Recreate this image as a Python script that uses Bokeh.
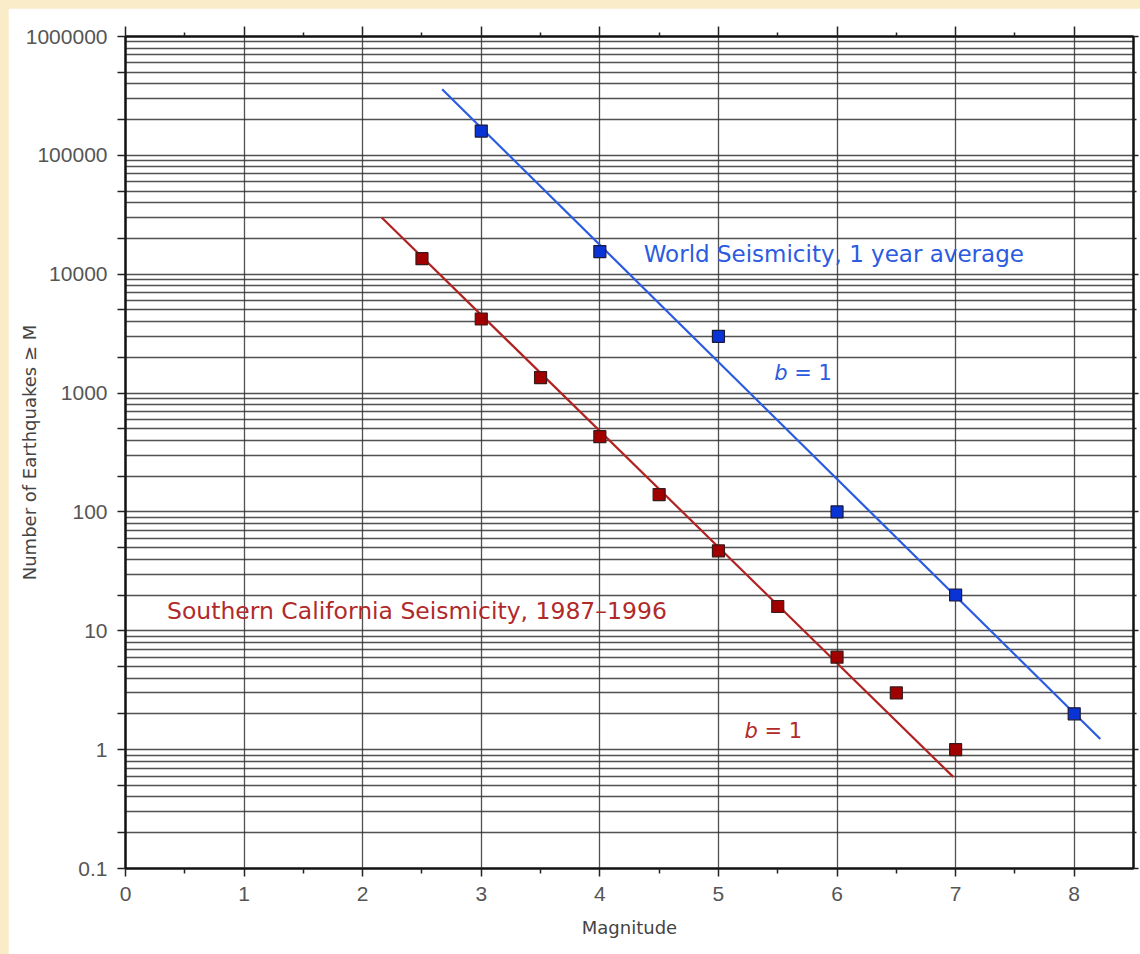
from bokeh.plotting import figure
from bokeh.layouts import column
from bokeh.models import (FixedTicker, LogAxis, LinearAxis, Range1d, CustomJSTickFormatter)
from bokeh.core.properties import value
from bokeh.embed import file_html
from bokeh.resources import INLINE

# ---- data ----
world_mag = [3, 4, 5, 6, 7, 8]
world_n = [160000, 15500, 3000, 100, 20, 2]
socal_mag = [2.5, 3, 3.5, 4, 4.5, 5, 5.5, 6, 6.5, 7]
socal_n = [13500, 4200, 1350, 430, 140, 47, 16, 6, 3, 1]

world_fit_mag = [2.67, 8.22]
world_fit_n = [360000, 1.23]
socal_fit_mag = [2.16, 6.98]
socal_fit_n = [30000, 0.59]

x_ticks = [0, 1, 2, 3, 4, 5, 6, 7, 8]
x_minor = [0.5, 1.5, 2.5, 3.5, 4.5, 5.5, 6.5, 7.5]
y_ticks = [0.1, 1, 10, 100, 1000, 10000, 100000, 1000000]
y_minor = [d * m for d in [0.1, 1, 10, 100, 1000, 10000, 100000] for m in (2, 5)]
y_grid = [d * m for d in [0.1, 1, 10, 100, 1000, 10000, 100000] for m in range(1, 10)] + [1000000]

labels_x = [4.37, 5.47, 0.35, 5.22]
labels_y = [14700, 1465, 14.8, 1.43]

FONT = "DejaVu Sans"
TICKFONT = "Liberation Sans"

p = figure(width=1132, height=946, y_axis_type="log",
           x_range=Range1d(0, 8.5), y_range=Range1d(0.1, 1000000),
           output_backend="svg", toolbar_location=None,
           min_border_left=117, min_border_right=7, min_border_top=28, min_border_bottom=86,
           background_fill_color="white", border_fill_color="white")
p.outline_line_color = "#111111"
p.outline_line_width = 2

# grids
p.xgrid.ticker = FixedTicker(ticks=x_ticks)
p.ygrid.ticker = FixedTicker(ticks=y_grid)
for g in (p.xgrid, p.ygrid):
    g.grid_line_color = "#333333"
    g.grid_line_width = 1.3
    g.grid_line_alpha = 0.85

xa = p.xaxis[0]
xa.ticker = FixedTicker(ticks=x_ticks, minor_ticks=x_minor)
xa.axis_label = "Magnitude"

ya = p.yaxis[0]
ya.ticker = FixedTicker(ticks=y_ticks, minor_ticks=y_minor)
ya.formatter = CustomJSTickFormatter(code="return tick.toString();")
ya.axis_label = "Number of Earthquakes \u2265 M"

for ax in (xa, ya):
    ax.axis_line_color = "#111111"
    ax.axis_line_width = 2
    ax.major_tick_line_color = "#222222"
    ax.minor_tick_line_color = "#222222"
    ax.major_tick_line_width = 1.5
    ax.minor_tick_line_width = 1.5
    ax.major_tick_in = 0
    ax.minor_tick_in = 0
    ax.major_label_text_font = TICKFONT
    ax.major_label_text_font_size = "21px"
    ax.major_label_text_color = "#555555"
    ax.axis_label_text_font = FONT
    ax.axis_label_text_font_size = "18px"
    ax.axis_label_text_font_style = "normal"
    ax.axis_label_text_color = "#444444"

xa.major_tick_out = 8
xa.minor_tick_out = 5
xa.major_label_standoff = 10
xa.axis_label_standoff = 13
ya.major_tick_out = 8
ya.minor_tick_out = 8
ya.major_label_standoff = 10
ya.axis_label_standoff = -17

blank = CustomJSTickFormatter(code="return '';")
top = LinearAxis(ticker=FixedTicker(ticks=x_ticks, minor_ticks=x_minor), formatter=blank)
right = LogAxis(ticker=FixedTicker(ticks=y_ticks, minor_ticks=y_minor), formatter=blank)
for ax in (top, right):
    ax.axis_line_color = "#111111"
    ax.axis_line_width = 2
    ax.major_tick_line_color = "#222222"
    ax.minor_tick_line_color = "#222222"
    ax.major_tick_line_width = 1.5
    ax.minor_tick_line_width = 1.5
    ax.major_tick_in = 0
    ax.minor_tick_in = 0
    ax.major_label_text_font_size = "1px"
top.major_tick_out = 10
top.minor_tick_out = 4
right.major_tick_out = 5
right.minor_tick_out = 3
p.add_layout(top, "above")
p.add_layout(right, "right")

# fit lines
p.line(world_fit_mag, world_fit_n, line_color="#2a5be0", line_width=2.2)
p.line(socal_fit_mag, socal_fit_n, line_color="#b02222", line_width=2.2)

# points
p.scatter(world_mag, world_n, marker="square", size=12, fill_color="#0a33d6",
          line_color="#1a1a3a", line_width=1.2)
p.scatter(socal_mag, socal_n, marker="square", size=12, fill_color="#a00000",
          line_color="#3a1a1a", line_width=1.2)

# labels
p.text(x=[labels_x[0]], y=[labels_y[0]], text=["World Seismicity, 1 year average"],
       text_font=value(FONT), text_font_size="23px", text_color="#2a5be0",
       text_align="left", text_baseline="middle")
p.text(x=[labels_x[2]], y=[labels_y[2]], text=["Southern California Seismicity, 1987\u20131996"],
       text_font=value(FONT), text_font_size="23.5px", text_color="#b02a2a",
       text_align="left", text_baseline="middle")
# "b = 1" with italic b
p.text(x=[labels_x[1], labels_x[3]], y=[labels_y[1], labels_y[3]], text=["b", "b"],
       text_font=value(FONT), text_font_size="21px", text_font_style="italic",
       text_color=["#2a5be0", "#b02a2a"], text_align="left", text_baseline="middle")
p.text(x=[labels_x[1], labels_x[3]], y=[labels_y[1], labels_y[3]], text=["= 1", "= 1"],
       text_font=value(FONT), text_font_size="21px", x_offset=20,
       text_color=["#2a5be0", "#b02a2a"], text_align="left", text_baseline="middle")

layout = column(p, styles={"background-color": "#fbecc9", "padding-left": "8px",
                           "padding-top": "8px"})

open("out.html", "w").write(file_html(layout, INLINE))
